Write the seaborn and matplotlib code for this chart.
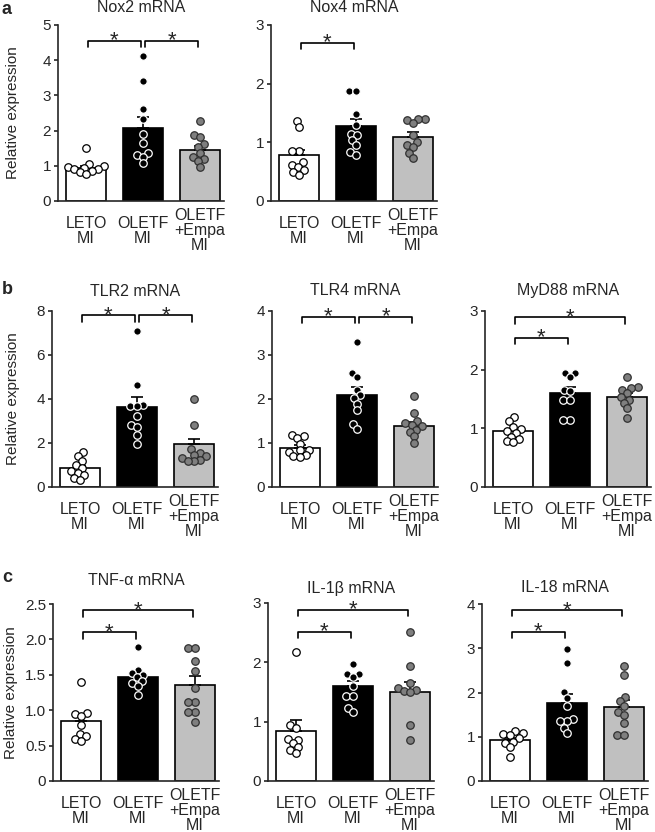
import numpy as np
import pandas as pd
import matplotlib
matplotlib.use("Agg")
import matplotlib.pyplot as plt
import seaborn as sns

## groups
groups = ["LETO\nMI", "OLETF\nMI", "OLETF\n+Empa\nMI"]

## data (points per group, bar mean, SEM)
nox2_leto = [1.50, 1.05, 1.00, 0.98, 0.95, 0.92, 0.90, 0.85, 0.82, 0.78]
nox2_oletf = [4.12, 3.42, 2.61, 2.33, 1.90, 1.66, 1.37, 1.30, 1.26, 1.07]
nox2_empa = [2.26, 1.88, 1.83, 1.62, 1.54, 1.37, 1.26, 1.20, 1.15, 0.98]
nox2_mean = [0.95, 2.08, 1.45]
nox2_sem = [0.05, 0.30, 0.12]

nox4_leto = [1.36, 1.26, 0.85, 0.85, 0.66, 0.62, 0.58, 0.52, 0.50, 0.45]
nox4_oletf = [1.87, 1.87, 1.49, 1.29, 1.15, 1.12, 1.04, 0.95, 0.83, 0.79]
nox4_empa = [1.40, 1.39, 1.38, 1.33, 1.12, 1.01, 0.96, 0.92, 0.82, 0.74]
nox4_mean = [0.78, 1.27, 1.09]
nox4_sem = [0.09, 0.12, 0.08]

tlr2_leto = [1.57, 1.39, 1.16, 1.01, 0.86, 0.71, 0.64, 0.56, 0.41, 0.33]
tlr2_oletf = [7.10, 4.64, 3.74, 3.69, 3.66, 3.21, 2.80, 2.75, 2.38, 1.95]
tlr2_empa = [3.99, 2.80, 1.72, 1.54, 1.47, 1.39, 1.32, 1.24, 1.16, 1.20]
tlr2_mean = [0.85, 3.62, 1.95]
tlr2_sem = [0.12, 0.45, 0.22]

tlr4_leto = [1.19, 1.15, 1.11, 0.98, 0.85, 0.83, 0.80, 0.72, 0.70, 0.68]
tlr4_oletf = [3.30, 2.59, 2.50, 2.21, 2.09, 2.02, 1.89, 1.74, 1.44, 1.32]
tlr4_empa = [2.07, 1.68, 1.49, 1.45, 1.40, 1.38, 1.30, 1.26, 1.15, 1.00]
tlr4_mean = [0.88, 2.09, 1.38]
tlr4_sem = [0.07, 0.18, 0.10]

myd88_leto = [1.19, 1.12, 1.03, 0.99, 0.95, 0.92, 0.86, 0.81, 0.78, 0.76]
myd88_oletf = [1.94, 1.94, 1.87, 1.66, 1.63, 1.49, 1.49, 1.15, 1.15]
myd88_empa = [1.88, 1.71, 1.68, 1.66, 1.60, 1.53, 1.49, 1.43, 1.34, 1.17]
myd88_mean = [0.95, 1.61, 1.54]
myd88_sem = [0.04, 0.10, 0.07]

tnf_leto = [1.40, 0.96, 0.94, 0.92, 0.79, 0.67, 0.63, 0.60, 0.57]
tnf_oletf = [1.89, 1.57, 1.53, 1.50, 1.47, 1.41, 1.38, 1.34, 1.22]
tnf_empa = [1.88, 1.88, 1.69, 1.55, 1.32, 1.12, 1.12, 0.98, 0.98, 0.84]
tnf_mean = [0.85, 1.47, 1.36]
tnf_sem = [0.07, 0.06, 0.13]

il1b_leto = [2.18, 0.94, 0.90, 0.71, 0.69, 0.64, 0.58, 0.52, 0.48]
il1b_oletf = [1.97, 1.80, 1.80, 1.76, 1.60, 1.43, 1.43, 1.23, 1.16]
il1b_empa = [2.51, 1.93, 1.66, 1.56, 1.54, 1.52, 1.50, 0.95, 0.69]
il1b_mean = [0.85, 1.60, 1.50]
il1b_sem = [0.18, 0.08, 0.17]

il18_leto = [1.12, 1.08, 1.06, 1.04, 0.97, 0.89, 0.86, 0.77, 0.55]
il18_oletf = [2.98, 2.67, 2.01, 1.88, 1.69, 1.39, 1.35, 1.35, 1.20, 1.08]
il18_empa = [2.61, 2.39, 1.90, 1.80, 1.69, 1.55, 1.50, 1.31, 1.03, 1.03]
il18_mean = [0.92, 1.77, 1.67]
il18_sem = [0.05, 0.19, 0.16]

bar_colors = ["white", "black", "#c0c0c0"]
dot_faces = ["white", "black", "#7f7f7f"]
dot_edges = ["black", "white", "#303030"]

sns.set_style("ticks")
plt.rcParams['font.family'] = ['Liberation Sans', 'DejaVu Sans']

W, H = 655, 832
fig = plt.figure(figsize=(W / 100, H / 100), dpi=100)

def px_axes(left, top, bottom, width=166):
    return fig.add_axes([left / W, 1 - bottom / H, width / W, (bottom - top) / H])

# (title, points, mean, sem, ymax, ystep, brackets, left, top, bottom, title pad, ylabel x)
panels = [
    ("Nox2 mRNA", [nox2_leto, nox2_oletf, nox2_empa], nox2_mean, nox2_sem, 5, 1,
     [(0, 1, 4.55), (1, 2, 4.55)], 58, 25, 201, 9.4, -0.23),
    ("Nox4 mRNA", [nox4_leto, nox4_oletf, nox4_empa], nox4_mean, nox4_sem, 3, 1,
     [(0, 1, 2.7)], 271, 25, 201, 9.4, None),
    ("TLR2 mRNA", [tlr2_leto, tlr2_oletf, tlr2_empa], tlr2_mean, tlr2_sem, 8, 2,
     [(0, 1, 7.8), (1, 2, 7.8)], 52, 311, 487, 10.8, -0.195),
    ("TLR4 mRNA", [tlr4_leto, tlr4_oletf, tlr4_empa], tlr4_mean, tlr4_sem, 4, 1,
     [(0, 1, 3.87), (1, 2, 3.87)], 272, 311, 487, 11.5, None),
    ("MyD88 mRNA", [myd88_leto, myd88_oletf, myd88_empa], myd88_mean, myd88_sem, 3, 1,
     [(0, 2, 2.89), (0, 1, 2.54)], 485, 311, 487, 11.5, None),
    ("TNF-\u03b1 mRNA", [tnf_leto, tnf_oletf, tnf_empa], tnf_mean, tnf_sem, 2.5, 0.5,
     [(0, 2, 2.41), (0, 1, 2.10)], 53, 604, 781, 13.7, -0.21),
    ("IL-1\u03b2 mRNA", [il1b_leto, il1b_oletf, il1b_empa], il1b_mean, il1b_sem, 3, 1,
     [(0, 2, 2.89), (0, 1, 2.51)], 268, 603, 781, 7.2, None),
    ("IL-18 mRNA", [il18_leto, il18_oletf, il18_empa], il18_mean, il18_sem, 4, 1,
     [(0, 2, 3.86), (0, 1, 3.37)], 482, 604, 781, 8.6, None),
]

swarms = []
for title, pts, mean, sem, ymax, ystep, brackets, left, top, bottom, tpad, ylx in panels:
    ax = px_axes(left, top, bottom)
    bars = pd.DataFrame({"group": groups, "mean": mean})
    sns.barplot(data=bars, x="group", y="mean", hue="group", order=groups,
                palette=bar_colors, edgecolor="black", linewidth=1.2,
                width=0.69, legend=False, ax=ax, zorder=1)
    ax.errorbar(x=np.arange(3), y=mean, yerr=[np.zeros(3), sem], fmt="none",
                ecolor="black", elinewidth=1.2, capsize=4, capthick=1.2, zorder=2)
    long = pd.DataFrame({"group": np.repeat(groups, [len(p) for p in pts]),
                         "value": np.concatenate(pts)})
    for g, fc, ec in zip(groups, dot_faces, dot_edges):
        n0 = len(ax.collections)
        # small size for a tight swarm, markers enlarged after layout
        sns.swarmplot(data=long[long["group"] == g], x="group", y="value",
                      order=groups, color=fc, edgecolor=ec, linewidth=0.9,
                      size=3.6, ax=ax, zorder=3, warn_thresh=1)
        swarms += ax.collections[n0:]
    # significance brackets
    drop = 0.035 * ymax
    for i, j, yb in brackets:
        xi, xj = i + 0.03, j - 0.03
        ax.plot([xi, xi, xj, xj], [yb - drop, yb, yb, yb - drop], color="black",
                lw=1.2, clip_on=False)
        ax.annotate("*", xy=((xi + xj) / 2, yb), xytext=(0, -4),
                    textcoords="offset points", ha="center", va="baseline",
                    fontsize=16)
    ax.set_xlim(-0.49, 2.42)
    ax.set_ylim(0, ymax)
    ticks = np.arange(0, ymax + ystep / 2, ystep)
    ax.set_yticks(ticks)
    if ystep < 1:
        ax.set_yticklabels(["0"] + [f"{t:.1f}" for t in ticks[1:]])
    else:
        ax.set_yticklabels([f"{t:g}" for t in ticks])
    ax.set_xlabel("")
    ax.set_title(title, fontsize=11.5, pad=tpad)
    if ylx is not None:
        ax.set_ylabel("Relative expression", fontsize=11)
        ax.yaxis.set_label_coords(ylx, 0.5)
    else:
        ax.set_ylabel("")
    sns.despine(ax=ax)
    for s in ["left", "bottom"]:
        ax.spines[s].set_linewidth(1.2)
    ax.tick_params(axis="y", length=3, width=1.2, labelsize=11, pad=2)
    ax.tick_params(axis="x", length=0, labelsize=11.5, pad=21.5)
    for t in ax.get_xticklabels():
        t.set_va("center")
        t.set_linespacing(1.0)

fig.text(2 / W, 1 - 1 / H, "a", fontsize=13, fontweight="bold", va="top")
fig.text(2 / W, 1 - 281 / H, "b", fontsize=13, fontweight="bold", va="top")
fig.text(2 / W, 1 - 569 / H, "c", fontsize=13, fontweight="bold", va="top")

# lay out the swarms once, then freeze positions and draw bigger markers
fig.canvas.draw()
for c in swarms:
    if "draw" in c.__dict__:
        del c.draw
    c.set_sizes([5.4 ** 2])

fig.savefig("out.png", dpi=100)
